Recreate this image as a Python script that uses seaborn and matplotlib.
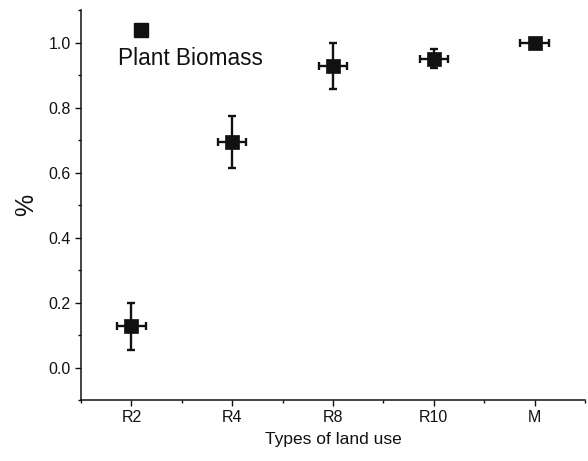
import numpy as np
import pandas as pd
import matplotlib
matplotlib.use("Agg")
import matplotlib.pyplot as plt
import seaborn as sns
from matplotlib.ticker import MultipleLocator

sns.set_theme(style="ticks")
plt.rcParams['font.family'] = ['Liberation Sans', 'DejaVu Sans']

# values
land_use = ["R2", "R4", "R8", "R10", "M"]
biomass = [0.127, 0.695, 0.929, 0.951, 1.0]
biomass_err = [0.072, 0.080, 0.071, 0.028, 0.0]
x_err = [0.14, 0.14, 0.14, 0.14, 0.14]

df = pd.DataFrame({"land_use": land_use, "biomass": biomass,
                   "yerr": biomass_err, "xerr": x_err})
df["pos"] = np.arange(1, len(df) + 1)

fig = plt.figure(figsize=(5.88, 4.61), dpi=100)
ax = fig.add_axes([0.1378, 0.1323, 0.857, 0.8457])

ax.errorbar(df["pos"], df["biomass"], yerr=df["yerr"], xerr=df["xerr"],
            fmt="none", ecolor="#111111", elinewidth=1.7, capsize=3,
            capthick=1.7, zorder=2)
sns.scatterplot(data=df, x="pos", y="biomass", marker="s", s=95,
                color="#111111", edgecolor="#111111", linewidth=0.5,
                ax=ax, zorder=3, legend=False)

# legend key, Origin style: marker above the label
ax.plot([0.12], [0.948], marker="s", markersize=9.5, color="#111111",
        linestyle="none", transform=ax.transAxes)
ax.text(0.073, 0.875, "Plant Biomass", transform=ax.transAxes,
        fontsize=16.3, va="center", ha="left", color="#111111")

ax.set_xlim(0.5, 5.5)
ax.set_ylim(-0.1, 1.1)
ax.set_xticks(df["pos"])
ax.set_xticklabels(df["land_use"])
ax.set_xticks(np.arange(0.5, 6.0, 1.0), minor=True)
ax.set_yticks([0.0, 0.2, 0.4, 0.6, 0.8, 1.0])
ax.yaxis.set_minor_locator(MultipleLocator(0.1))

ax.tick_params(axis="both", which="major", length=4, width=1, colors="#111111",
               labelsize=11.5, direction="out")
ax.tick_params(axis="both", which="minor", length=2.5, width=1, colors="#111111")
for side in ["top", "right"]:
    ax.spines[side].set_visible(False)
for side in ["left", "bottom"]:
    ax.spines[side].set_color("#111111")
    ax.spines[side].set_linewidth(1.1)

ax.set_xlabel("Types of land use", fontsize=12.5, color="#111111", labelpad=5)
ax.set_ylabel("%", fontsize=18, color="#111111", labelpad=7)

fig.savefig("out.png", dpi=100)
